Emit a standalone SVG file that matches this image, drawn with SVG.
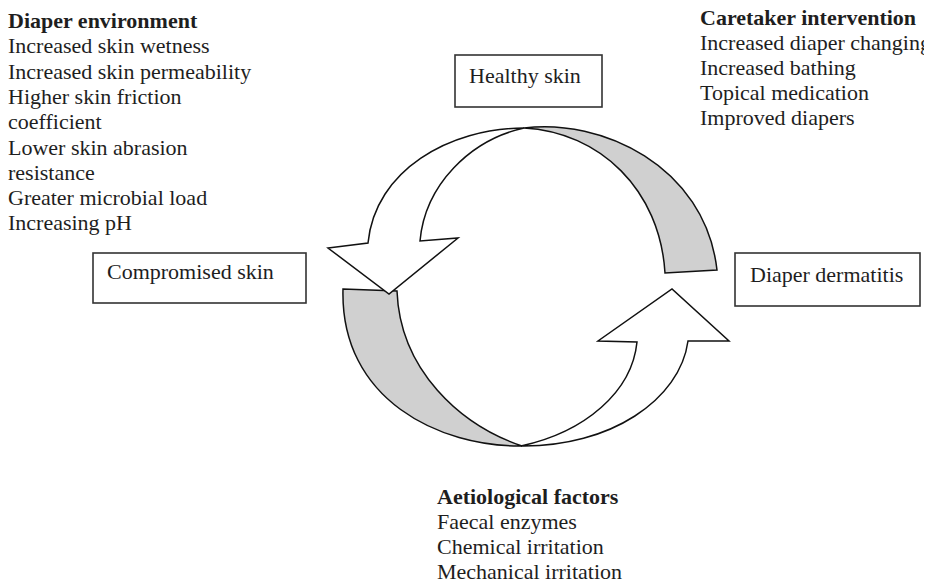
<svg xmlns="http://www.w3.org/2000/svg" width="930" height="583" viewBox="0 0 930 583">
  <defs>
    <style>
      text { font-family: "Liberation Serif", "Times New Roman", serif; font-size: 22px; fill: #1e1e1e; }
      .head { font-weight: bold; }
      .box { fill: #ffffff; stroke: #333333; stroke-width: 1.6; }
      .face { fill: #ffffff; stroke: #111111; stroke-width: 1.5; stroke-linejoin: miter; }
      .side { fill: #d0d0d0; stroke: #111111; stroke-width: 1.5; stroke-linejoin: miter; }
    </style>
    <clipPath id="pageEdge">
      <rect x="0" y="0" width="924" height="583"/>
    </clipPath>
  </defs>
  <rect x="0" y="0" width="930" height="583" fill="#ffffff"/>

  <!-- Cycle arrows -->
  <g id="connectors">
    <!-- shaded side of the upper arrow -->
    <path class="side" d="M524,128 C600,118 705,165 717,270 L665,273 C660,190 600,132 524,128 Z"/>
    <!-- shaded side of the lower arrow -->
    <path class="side" d="M343,289 L397,291 C400,370 460,425 522,446 C440,447 340,400 343,289 Z"/>
    <!-- upper arrow: healthy skin to compromised skin -->
    <path class="face" d="M524,128 C450,128 375,170 368,243 L328,248 L389,294 L458,238 L420,241 C425,185 470,140 524,128 Z"/>
    <!-- lower arrow: compromised skin to diaper dermatitis -->
    <path class="face" d="M521,446 C585,432 632,392 637,342 L598,341 L672,289 L729,341 L688,341 C680,400 610,447 521,446 Z"/>
  </g>

  <g id="healthy-skin">
    <rect class="box" x="455" y="55" width="147" height="52"/>
    <text x="469" y="83">Healthy skin</text>
  </g>

  <g id="compromised-skin">
    <rect class="box" x="93" y="253" width="213" height="50"/>
    <text x="107" y="279">Compromised skin</text>
  </g>

  <g id="diaper-dermatitis">
    <rect class="box" x="735" y="253" width="185" height="53"/>
    <text x="750" y="282">Diaper dermatitis</text>
  </g>

  <g id="diaper-environment">
    <text class="head" x="8" y="28">Diaper environment</text>
    <text x="8" y="53.3">Increased skin wetness</text>
    <text x="8" y="78.6">Increased skin permeability</text>
    <text x="8" y="104">Higher skin friction</text>
    <text x="8" y="129.2">coefficient</text>
    <text x="8" y="154.5">Lower skin abrasion</text>
    <text x="8" y="179.8">resistance</text>
    <text x="8" y="205">Greater microbial load</text>
    <text x="8" y="230.4">Increasing pH</text>
  </g>

  <g id="caretaker-intervention" clip-path="url(#pageEdge)">
    <text class="head" x="700" y="25">Caretaker intervention</text>
    <text x="700" y="50">Increased diaper changing</text>
    <text x="700" y="75">Increased bathing</text>
    <text x="700" y="100">Topical medication</text>
    <text x="700" y="125">Improved diapers</text>
  </g>

  <g id="aetiological-factors">
    <text class="head" x="437" y="504">Aetiological factors</text>
    <text x="437" y="529">Faecal enzymes</text>
    <text x="437" y="554">Chemical irritation</text>
    <text x="437" y="579">Mechanical irritation</text>
  </g>
</svg>
